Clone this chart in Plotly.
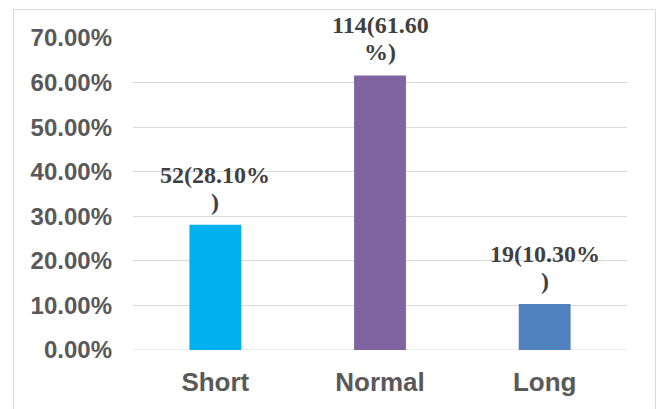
import plotly.graph_objects as go

categories = ["Short", "Normal", "Long"]
counts = [52, 114, 19]
shares = [0.281, 0.616, 0.103]
label_line1 = ["52(28.10%", "114(61.60", "19(10.30%"]
label_line2 = [")", "%)", ")"]
colors = ["#00B0F0", "#8064A2", "#4F81BD"]
y_ticks = [0, 0.1, 0.2, 0.3, 0.4, 0.5, 0.6, 0.7]

W, H = 659, 409
ml, mr, mt, mb = 133, 32, 38, 59

fig = go.Figure()
fig.add_trace(go.Bar(
    x=categories, y=shares, marker=dict(color=colors, line=dict(width=0)),
    width=0.315, cliponaxis=False, hoverinfo="skip"
))

lab_font = dict(family="Liberation Serif", size=24, color="#404040")
for c, v, l1, l2 in zip(categories, shares, label_line1, label_line2):
    fig.add_annotation(x=c, y=v, text="<b>%s</b>" % l1, showarrow=False,
                       yanchor="middle", yshift=50, font=lab_font)
    fig.add_annotation(x=c, y=v, text="<b>%s</b>" % l2, showarrow=False,
                       yanchor="middle", yshift=23, font=lab_font)

pw = W - ml - mr
ph = H - mt - mb
fig.add_shape(type="rect", xref="paper", yref="paper",
              x0=(13.5 - ml) / pw, x1=(655.5 - ml) / pw,
              y0=(H - mb - 412) / ph, y1=(H - mb - 9.5) / ph,
              line=dict(color="#D9D9D9", width=1), fillcolor="rgba(0,0,0,0)",
              layer="below")

fig.update_layout(
    width=W, height=H, margin=dict(l=ml, r=mr, t=mt, b=mb),
    paper_bgcolor="white", plot_bgcolor="white", showlegend=False,
    font=dict(family="Liberation Sans", color="#595959"),
    bargap=0.685,
)
fig.update_yaxes(
    range=[0, 0.7], tickvals=y_ticks, tickformat=".2%",
    showgrid=True, gridcolor="#D9D9D9", gridwidth=1, zeroline=False,
    showline=False, ticks="", ticklabelstandoff=20,
    tickfont=dict(family="Liberation Sans", size=24, color="#595959", weight="bold"),
)
fig.update_xaxes(
    showline=False, ticks="", ticklabelstandoff=14,
    tickfont=dict(family="Liberation Sans", size=26, color="#595959", weight="bold"),
)
fig.add_hline(y=0, line=dict(color="#D9D9D9", width=1), layer="below")

fig.write_html("out.html")
